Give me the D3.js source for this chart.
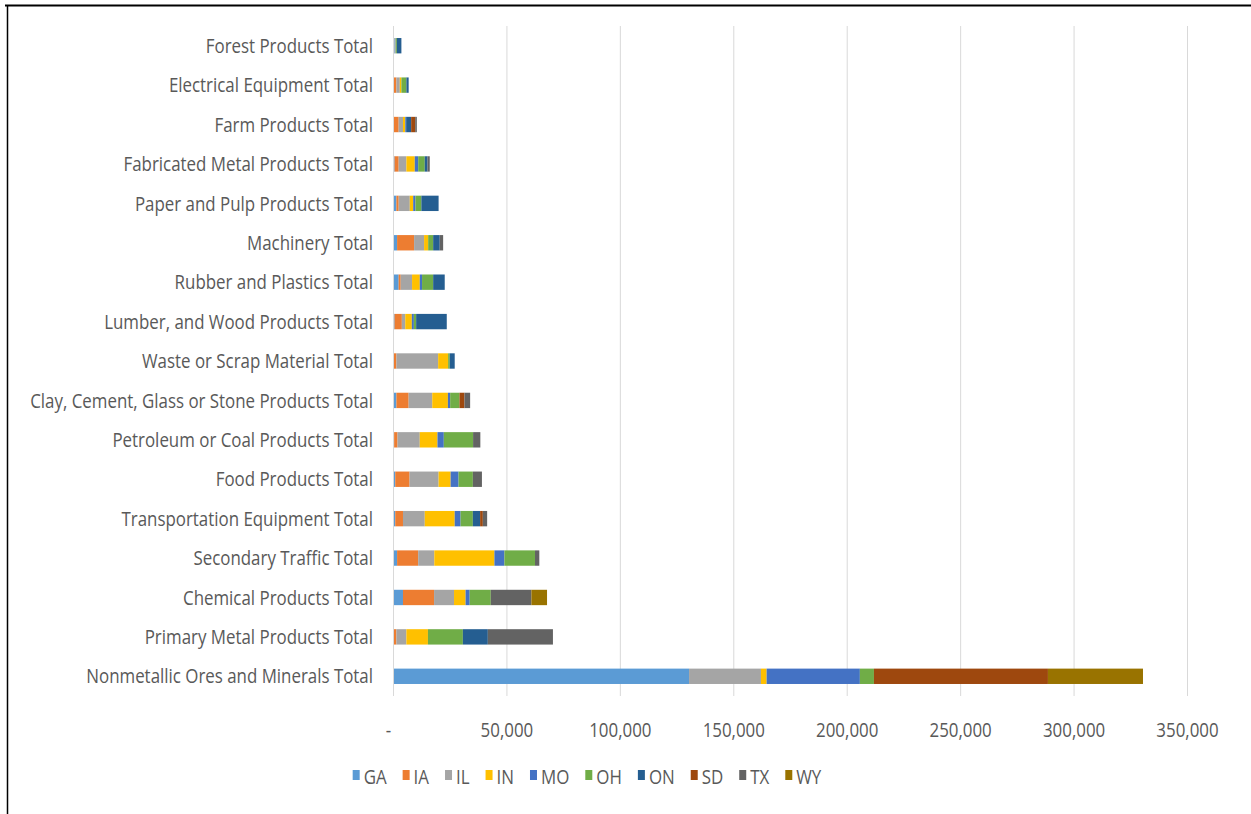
<!DOCTYPE html>
<html>
<head>
<meta charset="utf-8">
<script src="https://cdn.jsdelivr.net/npm/d3@7/dist/d3.min.js"></script>
<style>
  html, body { margin: 0; padding: 0; background: #fff; }
  svg { display: block; }
  text { font-family: "Open Sans", "Noto Sans", sans-serif; fill: #595959; }
</style>
</head>
<body>
<svg id="chart" width="1251" height="814"></svg>
<script>
// Commodity groups, listed top to bottom
const categories = [
  "Forest Products Total",
  "Electrical Equipment Total",
  "Farm Products Total",
  "Fabricated Metal Products Total",
  "Paper and Pulp Products Total",
  "Machinery Total",
  "Rubber and Plastics Total",
  "Lumber, and Wood Products Total",
  "Waste or Scrap Material Total",
  "Clay, Cement, Glass or Stone Products Total",
  "Petroleum or Coal Products Total",
  "Food Products Total",
  "Transportation Equipment Total",
  "Secondary Traffic Total",
  "Chemical Products Total",
  "Primary Metal Products Total",
  "Nonmetallic Ores and Minerals Total"
];

const states = ["GA", "IA", "IL", "IN", "MO", "OH", "ON", "SD", "TX", "WY"];

// Tonnage by state, in the same order as categories
const GA = [700, 0, 0, 700, 1500, 1800, 2500, 700, 0, 1500, 500, 1000, 1000, 1800, 4400, 0, 130500];
const IA = [0, 1500, 2500, 1800, 1000, 7500, 900, 3200, 1500, 5400, 1500, 6300, 3400, 9300, 13700, 1500, 0];
const IL = [500, 1500, 1900, 3400, 4900, 4400, 5000, 1500, 18400, 10400, 9800, 12800, 9600, 7100, 8800, 4400, 31700];
const IN = [0, 700, 1000, 3700, 1500, 1800, 3400, 2900, 4400, 6900, 7800, 5300, 13200, 26500, 5100, 9500, 2500];
const MO = [0, 0, 400, 1500, 1000, 0, 1000, 900, 0, 1000, 2800, 3500, 2600, 4400, 1800, 0, 41100];
const OH = [500, 2200, 0, 2900, 2600, 2200, 4900, 1000, 700, 4100, 12900, 6300, 5400, 13500, 9300, 15400, 6200];
const ON = [2000, 1000, 2200, 1200, 7600, 2900, 5100, 13500, 2200, 0, 0, 0, 3200, 0, 0, 11000, 0];
const SD = [0, 0, 1800, 0, 0, 0, 0, 0, 0, 2200, 0, 0, 1200, 0, 0, 0, 76700];
const TX = [0, 0, 700, 1000, 0, 1500, 0, 0, 0, 2500, 3200, 4000, 1900, 1900, 17900, 28700, 0];
const WY = [0, 0, 0, 0, 0, 0, 0, 0, 0, 0, 0, 0, 0, 0, 6900, 0, 41900];

const xTicks = [0, 50000, 100000, 150000, 200000, 250000, 300000, 350000];

const seriesByState = { GA, IA, IL, IN, MO, OH, ON, SD, TX, WY };
const colors = ["#5B9BD5", "#ED7D31", "#A5A5A5", "#FFC000", "#4472C4",
                "#70AD47", "#255E91", "#9E480E", "#636363", "#997300"];

const rows = categories.map((c, i) => {
  const r = { category: c };
  states.forEach(s => { r[s] = seriesByState[s][i]; });
  return r;
});

const svg = d3.select("#chart");
const fontSize = 20.5;

// Page frame
svg.append("line").attr("x1", 5).attr("x2", 1251).attr("y1", 5.5).attr("y2", 5.5)
  .attr("stroke", "#000").attr("stroke-width", 2);
svg.append("line").attr("x1", 7.5).attr("x2", 7.5).attr("y1", 5).attr("y2", 814)
  .attr("stroke", "#000").attr("stroke-width", 1.5);

const x = d3.scaleLinear().domain([0, 350000]).range([393, 1187]);
const y = d3.scaleBand().domain(categories).range([26, 696])
  .paddingInner(0.61).paddingOuter(0.305);
const color = d3.scaleOrdinal().domain(states).range(colors);

// Vertical gridlines
svg.append("g").selectAll("line").data(xTicks.slice(1)).join("line")
  .attr("x1", d => x(d) + 0.5).attr("x2", d => x(d) + 0.5)
  .attr("y1", 26).attr("y2", 696)
  .attr("stroke", "#D9D9D9").attr("stroke-width", 1);

// Stacked bars
const stack = d3.stack().keys(states);
svg.append("g").selectAll("g").data(stack(rows)).join("g")
  .attr("fill", d => color(d.key))
  .selectAll("rect").data(d => d).join("rect")
  .attr("x", d => x(d[0]))
  .attr("width", d => Math.max(0, x(d[1]) - x(d[0])))
  .attr("y", d => y(d.data.category))
  .attr("height", y.bandwidth());

// Category axis
const yAxis = svg.append("g").attr("transform", "translate(393,0)")
  .call(d3.axisLeft(y).tickSize(0).tickPadding(20));
yAxis.select(".domain").attr("stroke", "#D9D9D9").attr("d", "M0.5,26V696");
yAxis.selectAll("text").attr("font-size", fontSize).attr("font-family", null)
  .attr("dy", "0.35em");

// Value axis
const xAxis = svg.append("g").attr("transform", "translate(0,710)")
  .call(d3.axisBottom(x).tickValues(xTicks).tickSize(0).tickPadding(0)
    .tickFormat(d => d === 0 ? "-" : d3.format(",")(d)));
xAxis.select(".domain").remove();
xAxis.selectAll("text").attr("font-size", fontSize).attr("font-family", null)
  .attr("dy", "1.3em");

// Narrow the glyphs horizontally so the longest label spans its measured width
const longest = yAxis.selectAll("text").filter(d => d === "Nonmetallic Ores and Minerals Total").node();
const k = 287 / longest.getComputedTextLength();

yAxis.selectAll("text").each(function () {
  const t = d3.select(this);
  t.attr("x", -20 / k).attr("transform", `scale(${k},1)`);
});
xAxis.selectAll("text").each(function (d) {
  const t = d3.select(this);
  t.attr("transform", `scale(${k},1)`);
  if (d === 0) t.attr("x", -5 / k);
});

// Legend
const kL = k;
const gap = 16;
const sw = 7;
const legend = svg.append("g");
const items = legend.selectAll("g").data(states).join("g");
items.append("rect").attr("width", sw).attr("height", 10).attr("y", 770)
  .attr("fill", d => color(d));
items.append("text").attr("font-size", fontSize).attr("y", 784)
  .attr("transform", `scale(${kL},1)`)
  .text(d => d);
let cursor = 0;
const positions = [];
items.each(function () {
  const w = d3.select(this).select("text").node().getComputedTextLength() * kL;
  positions.push(cursor);
  cursor += sw + 4 + w + gap;
});
cursor -= gap;
const start = 587 - cursor / 2;
items.each(function (d, i) {
  const g = d3.select(this);
  const px = start + positions[i];
  g.select("rect").attr("x", px);
  g.select("text").attr("x", (px + sw + 4) / kL);
});
</script>
</body>
</html>
